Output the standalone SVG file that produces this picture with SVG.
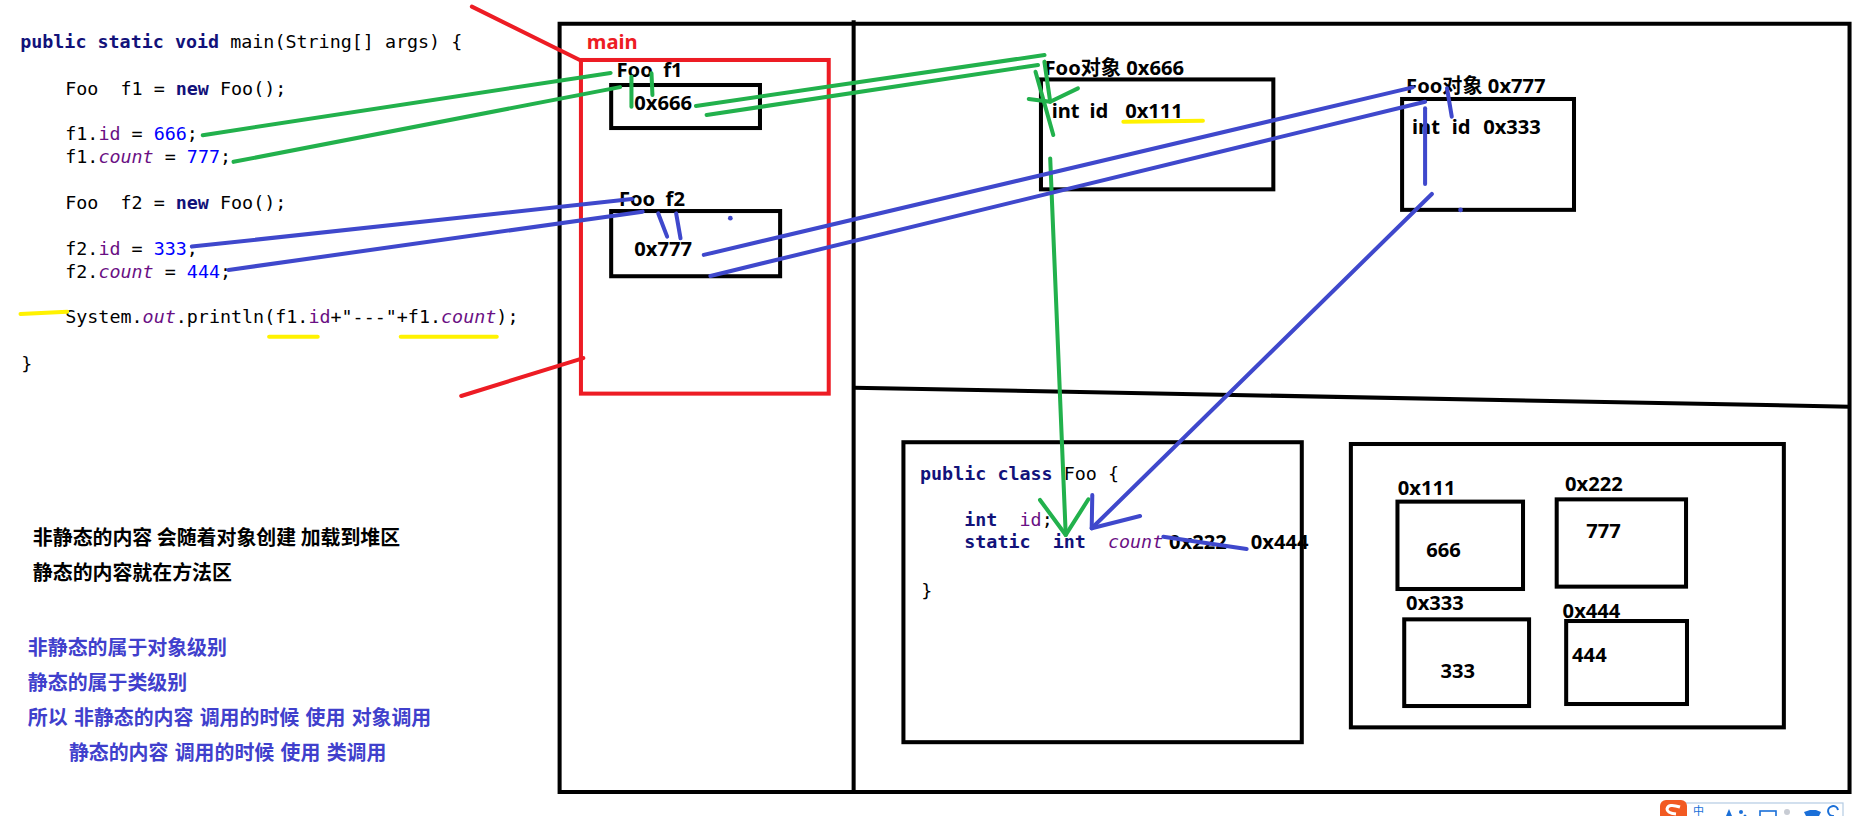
<svg xmlns="http://www.w3.org/2000/svg" width="1859" height="816" viewBox="0 0 1859 816">
<style>
.code{font-family:"DejaVu Sans Mono","Liberation Mono",monospace;font-size:15.5px;fill:#000;white-space:pre}
.kw{font-weight:bold;fill:#12127a}
.fld{fill:#6a0f84}
.it{font-style:italic}
.num{fill:#0000ff}
.lbl{font-family:"Noto Sans","Noto Sans CJK SC",sans-serif;font-weight:bold;font-size:17px;fill:#000;white-space:pre}
.cn{font-family:"Noto Sans CJK SC",sans-serif;font-weight:bold;font-size:16.8px;white-space:pre}
.box{fill:none;stroke:#000;stroke-width:3.4}
.g{fill:none;stroke:#22b14c;stroke-width:3.4;stroke-linecap:round;stroke-linejoin:round}
.b{fill:none;stroke:#3f48cc;stroke-width:3.4;stroke-linecap:round;stroke-linejoin:round}
.r{fill:none;stroke:#ed1c24;stroke-width:3.4;stroke-linecap:round}
.y{fill:none;stroke:#fff200;stroke-width:3.4;stroke-linecap:round}
</style>
<rect width="1859" height="816" fill="#fff"/>
<g transform="scale(1.1856)">
  <g id="frame">
    <path class="box" d="M472,20 H1560 V668 H472 Z"/>
    <path class="box" d="M720,17 V668"/>
    <path class="box" d="M720,327 L1560,343"/>
  </g>
  <g id="code-main" class="code">
    <text xml:space="preserve" x="17" y="40.8"><tspan class="kw">public static void</tspan> main(String[] args) {</text>
    <text xml:space="preserve" x="55" y="80.1">Foo  f1 = <tspan class="kw">new</tspan> Foo();</text>
    <text xml:space="preserve" x="55" y="118.1">f1.<tspan class="fld">id</tspan> = <tspan class="num">666</tspan>;</text>
    <text xml:space="preserve" x="55" y="137.2">f1.<tspan class="fld it">count</tspan> = <tspan class="num">777</tspan>;</text>
    <text xml:space="preserve" x="55" y="176.6">Foo  f2 = <tspan class="kw">new</tspan> Foo();</text>
    <text xml:space="preserve" x="55" y="215">f2.<tspan class="fld">id</tspan> = <tspan class="num">333</tspan>;</text>
    <text xml:space="preserve" x="55" y="234.2">f2.<tspan class="fld it">count</tspan> = <tspan class="num">444</tspan>;</text>
    <text xml:space="preserve" x="55" y="272.7">System.<tspan class="fld it">out</tspan>.println(f1.<tspan class="fld">id</tspan>+"---"+f1.<tspan class="fld it">count</tspan>);</text>
    <text x="18" y="312.1">}</text>
  </g>
  <g id="notes" class="cn">
    <text x="27.7" y="459.7" fill="#000">非静态的内容 会随着对象创建 加载到堆区</text>
    <text x="27.7" y="489.2" fill="#000">静态的内容就在方法区</text>
    <text x="23.5" y="552.5" fill="#4040cc">非静态的属于对象级别</text>
    <text x="23.5" y="582" fill="#4040cc">静态的属于类级别</text>
    <text x="23.5" y="611.5" fill="#4040cc" word-spacing="1.5">所以 非静态的内容 调用的时候 使用 对象调用</text>
    <text x="58.1" y="641" fill="#4040cc" word-spacing="1.5">静态的内容 调用的时候 使用 类调用</text>
  </g>
  <g id="main-frame">
    <rect x="490" y="50.6" width="209" height="281.4" fill="none" stroke="#ed1c24" stroke-width="3.4"/>
    <text class="lbl" x="495" y="41.6" style="fill:#ed1c24">main</text>
  </g>
  <g id="var-f1">
    <text class="lbl" x="520" y="65" xml:space="preserve">Foo  f1</text>
    <rect class="box" x="515.5" y="71.7" width="125.5" height="36.3"/>
    <text class="lbl" x="535" y="93">0x666</text>
  </g>
  <g id="var-f2">
    <text class="lbl" x="522" y="174" xml:space="preserve">Foo  f2</text>
    <rect class="box" x="515.5" y="178" width="142.5" height="55"/>
    <text class="lbl" x="535" y="216">0x777</text>
  </g>
  <g id="obj-0x666">
    <text class="lbl" x="881" y="63.3">Foo对象 0x666</text>
    <rect class="box" x="878" y="67" width="196" height="92.7"/>
    <text class="lbl" x="887" y="99.7">int</text>
    <text class="lbl" x="919" y="99.7">id</text>
    <text class="lbl" x="949" y="99.7">0x111</text>
  </g>
  <g id="obj-0x777">
    <text class="lbl" x="1186" y="78.2">Foo对象 0x777</text>
    <rect class="box" x="1182.6" y="83.5" width="145" height="93.5"/>
    <text class="lbl" x="1191" y="113">int</text>
    <text class="lbl" x="1224.5" y="113">id</text>
    <text class="lbl" x="1251" y="113">0x333</text>
  </g>
  <g id="class-foo">
    <rect class="box" x="762" y="373" width="336" height="253"/>
    <g class="code">
      <text xml:space="preserve" x="776" y="404.9"><tspan class="kw">public class</tspan> Foo {</text>
      <text xml:space="preserve" x="776" y="443.7">    <tspan class="kw">int</tspan>  <tspan class="fld">id</tspan>;</text>
      <text xml:space="preserve" x="776" y="462.5">    <tspan class="kw">static</tspan>  <tspan class="kw">int</tspan>  <tspan class="fld it">count</tspan></text>
      <text x="777" y="503.3">}</text>
    </g>
    <text class="lbl" x="986" y="462.9">0x222</text>
    <text class="lbl" x="1055" y="462.9">0x444</text>
  </g>
  <g id="heap">
    <rect class="box" x="1139.4" y="374.5" width="365.2" height="239"/>
  </g>
  <g id="cell-0x111">
    <text class="lbl" x="1179" y="417.5">0x111</text>
    <rect class="box" x="1178.7" y="423.1" width="105.9" height="73.7"/>
    <text class="lbl" x="1203" y="470">666</text>
  </g>
  <g id="cell-0x222">
    <text class="lbl" x="1320" y="414">0x222</text>
    <rect class="box" x="1313" y="421.2" width="109.1" height="73.6"/>
    <text class="lbl" x="1338" y="454">777</text>
  </g>
  <g id="cell-0x333">
    <text class="lbl" x="1186" y="514.5">0x333</text>
    <rect class="box" x="1184.4" y="522.4" width="105.3" height="73.1"/>
    <text class="lbl" x="1215" y="571.6">333</text>
  </g>
  <g id="cell-0x444">
    <text class="lbl" x="1318" y="521.5">0x444</text>
    <rect class="box" x="1321" y="523.8" width="101.9" height="70"/>
    <text class="lbl" x="1326" y="558">444</text>
  </g>
  <g id="connectors">
    <path class="r" d="M398,5.6 L489,50.6"/>
    <path class="r" d="M389,334 L492,302"/>
    <path class="y" d="M17.3,264.8 L56.7,263"/>
    <path class="y" d="M227,284 L268,284"/>
    <path class="y" d="M338,284 L419,284"/>
    <path class="y" d="M947.5,102.6 L1014.6,101.8"/>
    <path class="g" d="M171,114 L515,61.5"/>
    <path class="g" d="M197,136.5 L523,73.5"/>
    <path class="g" d="M532.6,64.7 L532.6,90"/>
    <path class="g" d="M549.5,61.8 L550.3,80.1"/>
    <path class="g" d="M587,89.4 L881,46.4"/>
    <path class="g" d="M596,97 L875.5,54.8"/>
    <path class="g" d="M873.4,60.5 L888.4,113.9"/>
    <path class="g" d="M880.9,52 L885.8,85.8"/>
    <path class="g" d="M867.7,83.5 L885.8,85.8 L909.2,74.5"/>
    <path class="g" d="M885.8,133.6 L898.9,451.2"/>
    <path class="g" d="M877.2,421.7 L898.9,451.2 L918,421.1"/>
    <path class="b" d="M161.8,208 L533,167.9"/>
    <path class="b" d="M192.8,227.7 L542,178.5"/>
    <path class="b" d="M555.2,180 L562.7,199.6"/>
    <path class="b" d="M570.3,180 L574,201"/>
    <circle cx="616" cy="184" r="2" fill="#3f48cc"/>
    <path class="b" d="M593.6,215 L1191.6,73.7"/>
    <path class="b" d="M599.2,232.8 L1202,85.8"/>
    <path class="b" d="M1220.5,74.5 L1224.5,98.4"/>
    <path class="b" d="M1202,91.4 L1202,155.2"/>
    <circle cx="1231.9" cy="177.1" r="2" fill="#3f48cc"/>
    <path class="b" d="M1207.7,163.6 L920.8,445.6"/>
    <path class="b" d="M921.3,417.5 L920.8,445.6 L961.6,435.2"/>
    <path class="b" d="M981.2,452.7 L1051.5,463"/>
  </g>
</g>
<g id="ime-toolbar">
  <rect x="1683" y="803" width="160" height="20" fill="#fff" stroke="#b4cbe3" stroke-width="1.2"/>
  <rect x="1660" y="800" width="27" height="22" rx="6" fill="#f25a22"/>
  <path d="M1680,807 Q1668,803 1667,809 Q1667,813 1676,814" fill="none" stroke="#fff" stroke-width="3"/>
  <text x="1693" y="815" font-family="Noto Sans CJK SC,sans-serif" font-size="11" fill="#1a6fd8">中</text>
  <path d="M1726,816 L1729,809 L1732,816 Z" fill="#1a6fd8"/>
  <circle cx="1741" cy="812" r="2" fill="#1a6fd8"/>
  <circle cx="1745" cy="816" r="1.5" fill="#1a6fd8"/>
  <rect x="1760" y="811" width="16" height="6" fill="none" stroke="#1a6fd8" stroke-width="1.6"/>
  <circle cx="1787" cy="812" r="3" fill="#c8ccd4"/>
  <path d="M1804,812 L1810,810 L1816,810 L1821,812 L1819,816 L1806,816 Z" fill="#1a6fd8"/>
  <path d="M1838,810 A5,5 0 1 0 1834,816" fill="none" stroke="#1a6fd8" stroke-width="2"/>
</g>
</svg>
